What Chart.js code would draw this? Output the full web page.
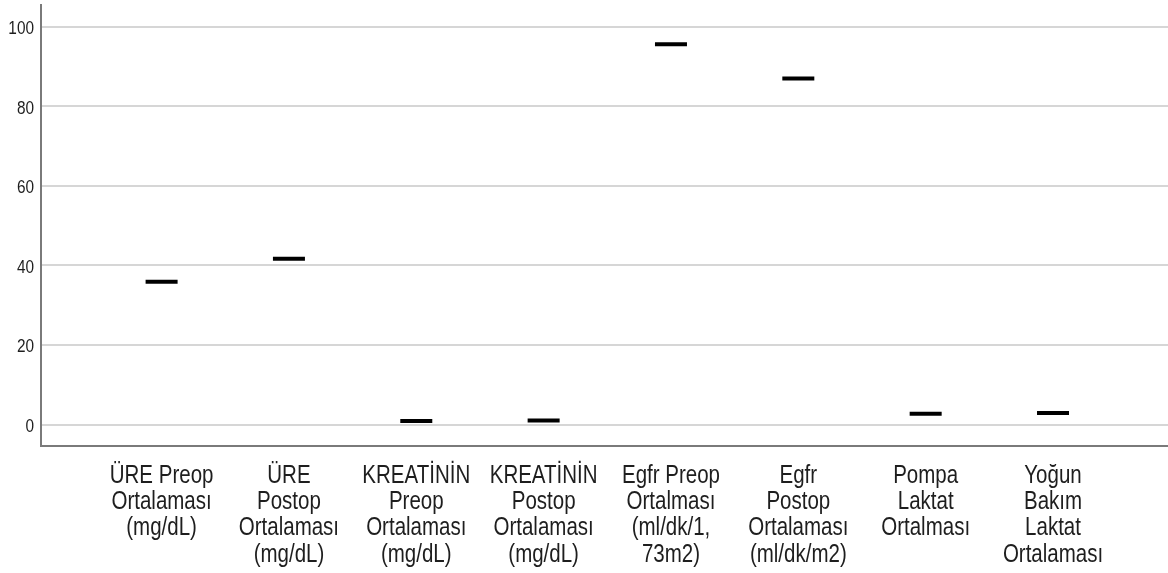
<!DOCTYPE html>
<html>
<head>
<meta charset="utf-8">
<script src="https://cdn.jsdelivr.net/npm/chart.js@4.4.1/dist/chart.umd.min.js"></script>
<style>
  html, body { margin: 0; padding: 0; background: #ffffff; }
  #wrap { width: 1168px; height: 573px; }
</style>
</head>
<body>
<div id="wrap"><canvas id="c" width="1168" height="573"></canvas></div>
<script>
const categories = [
  ["ÜRE Preop", "Ortalaması", "(mg/dL)"],
  ["ÜRE", "Postop", "Ortalaması", "(mg/dL)"],
  ["KREATİNİN", "Preop", "Ortalaması", "(mg/dL)"],
  ["KREATİNİN", "Postop", "Ortalaması", "(mg/dL)"],
  ["Egfr Preop", "Ortalması", "(ml/dk/1,", "73m2)"],
  ["Egfr", "Postop", "Ortalaması", "(ml/dk/m2)"],
  ["Pompa", "Laktat", "Ortalması"],
  ["Yoğun", "Bakım", "Laktat", "Ortalaması"]
];
const means = [35.9, 41.7, 0.9, 1.0, 95.6, 87.0, 2.7, 2.9];
const yTicks = [0, 20, 40, 60, 80, 100];

const FONT = "'Liberation Sans', Arial, sans-serif";
const TEXT_COLOR = '#1e1e1e';

// Narrow (condensed) tick labels, positioned through the chart's own scales
const narrowLabels = {
  id: 'narrowLabels',
  afterDraw(chart) {
    const ctx = chart.ctx;
    const xs = chart.scales.x, ys = chart.scales.y;
    const area = chart.chartArea;
    ctx.save();
    ctx.fillStyle = TEXT_COLOR;
    // y tick labels
    ctx.font = '19px ' + FONT;
    ctx.textAlign = 'right';
    ctx.textBaseline = 'middle';
    yTicks.forEach(v => {
      const y = ys.getPixelForValue(v) + 2;
      ctx.save();
      ctx.translate(area.left - 7, y);
      ctx.scale(0.81, 1);
      ctx.fillText(String(v), 0, 0);
      ctx.restore();
    });
    // x category labels
    ctx.font = '25px ' + FONT;
    ctx.textAlign = 'center';
    ctx.textBaseline = 'alphabetic';
    categories.forEach((lines, i) => {
      const x = xs.getPixelForValue(i);
      lines.forEach((line, j) => {
        ctx.save();
        ctx.translate(x, area.bottom + 36.5 + j * 26.4);
        ctx.scale(0.82, 1);
        ctx.fillText(line, 0, 0);
        ctx.restore();
      });
    });
    ctx.restore();
  }
};

const points = means.map((v, i) => ({ x: i, y: v }));

new Chart(document.getElementById('c'), {
  type: 'scatter',
  data: {
    datasets: [{
      data: points,
      pointStyle: 'line',
      pointRadius: 16,
      pointHoverRadius: 16,
      borderWidth: 4,
      pointBorderWidth: 4,
      borderColor: '#000000',
      backgroundColor: '#000000',
      showLine: false
    }]
  },
  plugins: [narrowLabels],
  options: {
    responsive: false,
    animation: false,
    devicePixelRatio: 1,
    layout: { autoPadding: false, padding: { top: 5, right: 0, left: 0, bottom: 0 } },
    plugins: { legend: { display: false }, tooltip: { enabled: false } },
    scales: {
      x: {
        type: 'linear',
        min: -0.947,
        max: 7.903,
        afterBuildTicks: (s) => { s.ticks = categories.map((_, i) => ({ value: i })); },
        afterFit: (s) => { s.height = 127; },
        grid: { display: false, drawTicks: false },
        border: { display: true, color: '#7a7a7a', width: 2 },
        ticks: { display: false }
      },
      y: {
        type: 'linear',
        min: -5.4,
        max: 105.5,
        afterBuildTicks: (s) => { s.ticks = yTicks.map(v => ({ value: v })); },
        afterFit: (s) => { s.width = 41; },
        grid: { display: true, color: '#d6d6d6', lineWidth: 2, drawTicks: false },
        border: { display: true, color: '#7a7a7a', width: 2 },
        ticks: { display: false }
      }
    }
  }
});
</script>
</body>
</html>
